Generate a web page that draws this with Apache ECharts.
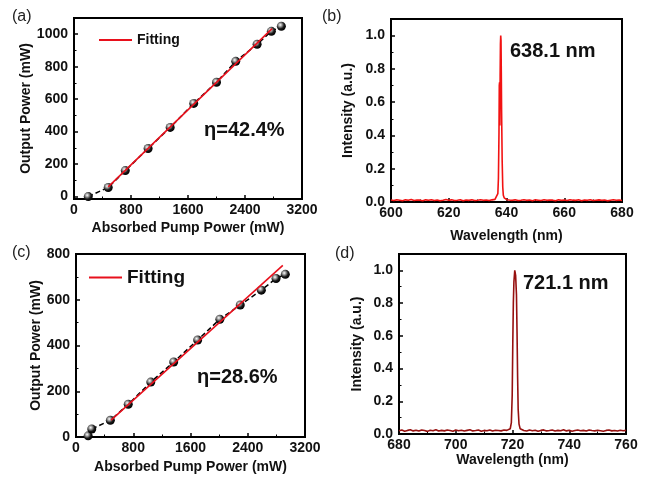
<!DOCTYPE html>
<html>
<head>
<meta charset="utf-8">
<script src="https://cdn.jsdelivr.net/npm/echarts@6/dist/echarts.min.js"></script>
<style>
  html, body { margin: 0; padding: 0; background: #fff; }
  #chart { width: 647px; height: 481px; }
</style>
</head>
<body>
<div id="chart"></div>
<script>
// (a) output power vs absorbed pump power
var pumpA = [200, 480, 720, 1040, 1350, 1680, 2000, 2270, 2570, 2770, 2910];
var outA = [0, 56, 160, 296, 426, 574, 704, 833, 938, 1018, 1049];
var fitAX = [480, 2780];
var fitAY = [60, 1035];

// (c)
var pumpC = [170, 220, 480, 730, 1045, 1365, 1700, 2010, 2295, 2590, 2795, 2925];
var outC = [5, 35, 73, 143, 240, 328, 424, 515, 577, 642, 693, 711];
var fitCX = [490, 2890];
var fitCY = [74, 750];

// (b) spectrum, 638.1 nm
var wlB = [600,601,602,603,604,605,606,607,608,609,610,611,612,613,614,615,616,617,618,619,
  620,621,622,623,624,625,626,627,628,629,630,631,632,633,634,635,
  636,636.5,637,637.2,637.4,637.5,637.6,637.7,637.8,637.9,638,638.1,638.2,638.3,638.5,638.7,638.9,639.2,639.6,640.1,
  641,642,643,644,645,646,647,648,649,650,651,652,653,654,655,656,657,658,659,660,
  661,662,663,664,665,666,667,668,669,670,671,672,673,674,675,676,677,678,679,680];
var intB = [0.012,0.009,0.014,0.011,0.008,0.013,0.010,0.015,0.009,0.012,
  0.011,0.007,0.013,0.010,0.014,0.009,0.012,0.008,0.011,0.015,
  0.010,0.013,0.009,0.011,0.014,0.008,0.012,0.010,0.013,0.009,
  0.011,0.014,0.010,0.012,0.009,0.013,
  0.016,0.024,0.05,0.14,0.42,0.70,0.72,0.46,0.76,0.95,1.0,0.97,0.78,0.55,0.25,0.09,0.04,0.025,0.018,0.014,
  0.012,0.010,0.013,0.009,0.011,0.014,0.010,0.012,0.008,0.013,
  0.011,0.009,0.014,0.010,0.012,0.011,0.008,0.013,0.010,0.012,
  0.009,0.014,0.011,0.010,0.013,0.008,0.012,0.010,0.014,0.009,
  0.011,0.013,0.010,0.012,0.008,0.011,0.014,0.010,0.012,0.009];

// (d) spectrum, 721.1 nm
var wlD = [680,681,682,683,684,685,686,687,688,689,690,691,692,693,694,695,696,697,698,699,
  700,701,702,703,704,705,706,707,708,709,710,711,712,713,714,715,716,717,718,
  718.7,719.2,719.6,719.9,720.1,720.3,720.5,720.8,721.1,721.4,721.6,721.8,722,722.3,722.7,723.2,
  724,725,726,727,728,729,730,731,732,733,734,735,736,737,738,739,740,
  741,742,743,744,745,746,747,748,749,750,751,752,753,754,755,756,757,758,759,760];
var intD = [0.020,0.024,0.017,0.022,0.026,0.019,0.023,0.018,0.025,0.021,
  0.016,0.023,0.020,0.026,0.018,0.022,0.019,0.024,0.021,0.017,
  0.025,0.020,0.023,0.018,0.022,0.026,0.019,0.021,0.024,0.017,
  0.022,0.020,0.025,0.018,0.023,0.021,0.019,0.024,0.022,
  0.026,0.032,0.07,0.24,0.55,0.80,0.93,1.0,0.97,0.85,0.62,0.35,0.15,0.06,0.032,0.025,
  0.021,0.018,0.024,0.020,0.023,0.017,0.022,0.025,0.019,0.021,
  0.024,0.018,0.022,0.020,0.026,0.019,0.023,0.017,0.021,0.024,
  0.020,0.022,0.018,0.025,0.021,0.019,0.023,0.020,0.017,0.022,
  0.024,0.019,0.021,0.018,0.023,0.020,0.022];

function zip(xs, ys) {
  return xs.map(function (x, i) { return [x, ys[i]]; });
}

var FONT = 'Liberation Sans, Arial, sans-serif';

var ball = {
  type: 'radial', x: 0.38, y: 0.35, r: 0.65,
  colorStops: [
    {offset: 0, color: '#ffffff'},
    {offset: 0.3, color: '#9a9a9a'},
    {offset: 0.65, color: '#1a1a1a'},
    {offset: 1, color: '#000000'}
  ]
};

function xAx(grid, min, max, interval, name, gap) {
  return {
    type: 'value', gridIndex: grid, min: min, max: max, interval: interval,
    name: name, nameLocation: 'middle', nameGap: gap,
    nameTextStyle: {fontFamily: FONT, fontWeight: 'bold', fontSize: 14, color: '#111'},
    axisLine: {show: true, onZero: false, lineStyle: {color: '#000', width: 2}},
    axisTick: {inside: true, length: 4, lineStyle: {color: '#000', width: 1.5}},
    minorTick: {show: true, splitNumber: 2, length: 2.5, lineStyle: {color: '#000', width: 1}},
    axisLabel: {fontFamily: FONT, fontWeight: 'bold', fontSize: 14, color: '#111', margin: 4,
      formatter: function (v) { return String(v); }},
    splitLine: {show: false}
  };
}

function yAx(grid, min, max, interval, name, gap, fmt) {
  var o = {
    type: 'value', gridIndex: grid, min: min, max: max,
    name: name, nameLocation: 'middle', nameGap: gap,
    nameTextStyle: {fontFamily: FONT, fontWeight: 'bold', fontSize: 14, color: '#111'},
    axisLine: {show: true, onZero: false, lineStyle: {color: '#000', width: 2}},
    axisTick: {inside: true, length: 4, lineStyle: {color: '#000', width: 1.5}},
    minorTick: {show: true, splitNumber: 2, length: 2.5, lineStyle: {color: '#000', width: 1}},
    axisLabel: {fontFamily: FONT, fontWeight: 'bold', fontSize: 14, color: '#111', margin: 6, formatter: fmt},
    splitLine: {show: false}
  };
  if (interval) o.interval = interval;
  else o.splitNumber = 5;
  return o;
}

var chart = echarts.init(document.getElementById('chart'));

chart.setOption({
  backgroundColor: '#fff',
  animation: false,
  grid: [
    {left: 74, top: 18, width: 228, height: 181, show: true, borderColor: '#000', borderWidth: 2},
    {left: 391, top: 19, width: 231, height: 183, show: true, borderColor: '#000', borderWidth: 2},
    {left: 76, top: 254, width: 229, height: 183, show: true, borderColor: '#000', borderWidth: 2},
    {left: 399, top: 254, width: 227, height: 180, show: true, borderColor: '#000', borderWidth: 2}
  ],
  xAxis: [
    xAx(0, 0, 3200, 800, 'Absorbed Pump Power (mW)', 22),
    xAx(1, 600, 680, 20, 'Wavelength (nm)', 27),
    xAx(2, 0, 3200, 800, 'Absorbed Pump Power (mW)', 23),
    xAx(3, 680, 760, 20, 'Wavelength (nm)', 19)
  ],
  yAxis: [
    yAx(0, -15, 1100, null, 'Output Power (mW)', 41, function (v) { return v % 200 === 0 ? String(v) : ''; }),
    yAx(1, 0, 1.1, 0.2, 'Intensity (a.u.)', 36, function (v) { return v > 1.05 ? '' : v.toFixed(1); }),
    yAx(2, 0, 800, 200, 'Output Power (mW)', 32, function (v) { return String(v); }),
    yAx(3, 0, 1.1, 0.2, 'Intensity (a.u.)', 35, function (v) { return v > 1.05 ? '' : v.toFixed(1); })
  ],
  legend: [
    {data: [{name: 'Fitting', icon: 'rect'}], left: 99, top: 33, padding: 0, itemWidth: 33, itemHeight: 2,
      textStyle: {fontFamily: FONT, fontWeight: 'bold', fontSize: 14, color: '#111'}},
    {data: [{name: 'Fitting', icon: 'rect'}], left: 89, top: 268, padding: 0, itemWidth: 33, itemHeight: 2,
      textStyle: {fontFamily: FONT, fontWeight: 'bold', fontSize: 19, color: '#111'}}
  ],
  series: [
    {
      name: 'Data a', type: 'line', xAxisIndex: 0, yAxisIndex: 0,
      data: zip(pumpA, outA), symbol: 'circle', symbolSize: 9,
      itemStyle: {color: ball, borderWidth: 0},
      lineStyle: {color: '#000', width: 1.5, type: [5, 3]}, z: 2
    },
    {
      name: 'Fitting', type: 'line', xAxisIndex: 0, yAxisIndex: 0,
      data: zip(fitAX, fitAY), symbol: 'none',
      lineStyle: {color: '#e8101c', width: 1.6}, itemStyle: {color: '#e8101c'}, z: 3
    },
    {
      name: 'Spectrum b', type: 'line', xAxisIndex: 1, yAxisIndex: 1,
      data: zip(wlB, intB), symbol: 'none',
      lineStyle: {color: '#f21212', width: 1.6}, z: 2
    },
    {
      name: 'Data c', type: 'line', xAxisIndex: 2, yAxisIndex: 2,
      data: zip(pumpC, outC), symbol: 'circle', symbolSize: 9,
      itemStyle: {color: ball, borderWidth: 0},
      lineStyle: {color: '#000', width: 1.5, type: [5, 3]}, z: 2
    },
    {
      name: 'Fitting', type: 'line', xAxisIndex: 2, yAxisIndex: 2,
      data: zip(fitCX, fitCY), symbol: 'none',
      lineStyle: {color: '#e8101c', width: 1.6}, itemStyle: {color: '#e8101c'}, z: 3
    },
    {
      name: 'Spectrum d', type: 'line', xAxisIndex: 3, yAxisIndex: 3,
      data: zip(wlD, intD), symbol: 'none',
      lineStyle: {color: '#96100f', width: 1.6}, z: 2
    }
  ],
  graphic: [
    {type: 'text', left: 12, top: 9, style: {text: '(a)', font: '16px ' + FONT, fill: '#222'}},
    {type: 'text', left: 322, top: 9, style: {text: '(b)', font: '16px ' + FONT, fill: '#222'}},
    {type: 'text', left: 12, top: 245, style: {text: '(c)', font: '16px ' + FONT, fill: '#222'}},
    {type: 'text', left: 335, top: 246, style: {text: '(d)', font: '16px ' + FONT, fill: '#222'}},
    {type: 'text', left: 204, top: 120, style: {text: 'η=42.4%', font: 'bold 20px ' + FONT, fill: '#111'}},
    {type: 'text', left: 197, top: 367, style: {text: 'η=28.6%', font: 'bold 20px ' + FONT, fill: '#111'}},
    {type: 'text', left: 510, top: 41, style: {text: '638.1 nm', font: 'bold 20px ' + FONT, fill: '#111'}},
    {type: 'text', left: 523, top: 273, style: {text: '721.1 nm', font: 'bold 20px ' + FONT, fill: '#111'}}
  ]
});
</script>
</body>
</html>
